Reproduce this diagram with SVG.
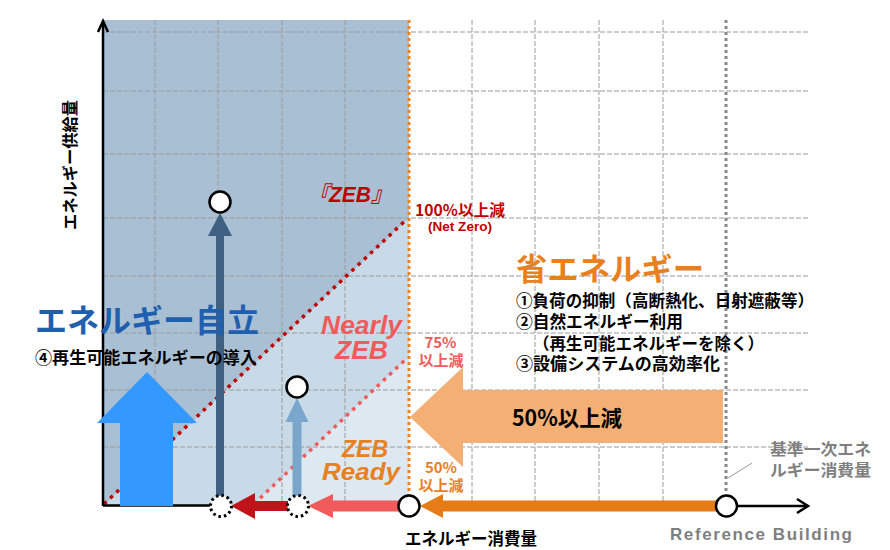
<svg xmlns="http://www.w3.org/2000/svg" width="890" height="550" viewBox="0 0 890 550">
<defs>
<style>
.jp{font-family:"Noto Sans CJK JP","Noto Sans",sans-serif;font-weight:bold}
.la{font-family:"Liberation Sans",Arial,"Noto Sans CJK JP",sans-serif;font-weight:bold}
.it{font-style:italic}
.grid{stroke:#9a9a9a;stroke-width:1;stroke-dasharray:5 2;fill:none}
.circ{fill:#fff;stroke:#000;stroke-width:2.5}
.dcirc{fill:#fff;stroke:#000;stroke-width:3;stroke-dasharray:2.5 3}
</style>
</defs>
<rect width="890" height="550" fill="#fff"/>
<g id="regions">
<rect x="103" y="20" width="306" height="486" fill="#a9c0d4"/>
<polygon points="103,506 409,218 409,506" fill="#c8dae8"/>
<polygon points="252,506 409,357 409,506" fill="#dde8f0"/>
</g>
<g id="grid" class="grid">
<path d="M103 32H810M103 91H810M103 154H810M103 218H810M103 276H810M103 333H810M103 390H810M103 447H810"/>
<path d="M155 20V505M218 20V505M282 20V505M345 20V505M472 20V505M535 20V505M599 20V505M663 20V505"/>
</g>
<g id="guide-lines" fill="none">
<line x1="409" y1="20" x2="409" y2="496" stroke="#ef841e" stroke-width="3" stroke-dasharray="3 3"/>
<line x1="726" y1="20" x2="726" y2="494" stroke="#888" stroke-width="3" stroke-dasharray="3 3"/>
<line x1="728" y1="478" x2="752" y2="463" stroke="#999" stroke-width="1"/>
</g>
<g id="zeb-lines" fill="none" stroke-width="3.5" stroke-dasharray="3.5 5">
<line x1="104" y1="504" x2="407" y2="219" stroke="#c00000"/>
<line x1="254" y1="504" x2="407" y2="358" stroke="#f05a5a"/>
</g>
<g id="axes" fill="none" stroke="#000" stroke-width="2.5">
<line x1="103" y1="506" x2="103" y2="22"/>
<polyline points="98,32 103,21 108,32"/>
<line x1="103" y1="505.5" x2="210" y2="505.5"/>
<line x1="737" y1="506" x2="807" y2="506"/>
<polyline points="797,499 808,506 797,513"/>
</g>
<g id="connectors">
<polygon id="supply-arrow" points="120,506 120,423 97,423 147,372 197,423 173,423 173,506" fill="#3399ff"/>
<polygon id="saving-arrow" points="723,390 463,390 463,367 410,417 463,467 463,443 723,443" fill="#f4b074"/>
<g fill="#3f6080"><rect x="216" y="234" width="8" height="262"/><polygon points="220,213 208,236 232,236"/></g>
<g fill="#7aa6cc"><rect x="292.5" y="420" width="9" height="76"/><polygon points="297,398 285.5,422 308.5,422"/></g>
<g fill="#e57c18"><rect x="442" y="500.5" width="282" height="11"/><polygon points="420,506 443,494 443,518"/></g>
<g fill="#f05a5a"><rect x="332" y="500.5" width="67" height="11"/><polygon points="308,506 333,494 333,518"/></g>
<g fill="#c0141a"><rect x="254" y="501" width="34" height="10"/><polygon points="231,506 255,493 255,519"/></g>
</g>
<g id="points">
<circle id="p-zeb-top" class="circ" cx="220" cy="202" r="10.5"/>
<circle id="p-nzeb-top" class="circ" cx="297" cy="387" r="10.5"/>
<circle id="p-zeb" class="dcirc" cx="221" cy="506" r="10.5"/>
<circle id="p-nzeb" class="dcirc" cx="298" cy="506" r="10.5"/>
<circle id="p-ready" class="circ" cx="409" cy="506" r="10.5"/>
<circle id="p-ref" class="circ" cx="726.5" cy="506" r="10.5"/>
</g>
<g id="labels">
<text class="jp" x="35" y="332" font-size="32" fill="#1f5fae" textLength="224" lengthAdjust="spacingAndGlyphs">エネルギー自立</text>
<text class="jp" x="35" y="364" font-size="16.5" fill="#000" textLength="222" lengthAdjust="spacingAndGlyphs">④再生可能エネルギーの導入</text>
<text class="jp" x="516" y="280" font-size="31" fill="#e8801e" textLength="188" lengthAdjust="spacingAndGlyphs">省エネルギー</text>
<text class="jp" x="516" y="306.5" font-size="16.5" fill="#000" textLength="298" lengthAdjust="spacingAndGlyphs">①負荷の抑制（高断熱化、日射遮蔽等）</text>
<text class="jp" x="516" y="328" font-size="16.5" fill="#000" textLength="167" lengthAdjust="spacingAndGlyphs">②自然エネルギー利用</text>
<text class="jp" x="533" y="350" font-size="16.5" fill="#000" textLength="231" lengthAdjust="spacingAndGlyphs">（再生可能エネルギーを除く）</text>
<text class="jp" x="516" y="370" font-size="16.5" fill="#000" textLength="204" lengthAdjust="spacingAndGlyphs">③設備システムの高効率化</text>
<text class="jp" x="512" y="426" font-size="22" fill="#000" textLength="110" lengthAdjust="spacingAndGlyphs">50%以上減</text>
<text class="jp it" x="308" y="202" font-size="22" fill="#c00000" textLength="84" lengthAdjust="spacingAndGlyphs">『<tspan class="la" font-size="22">ZEB</tspan>』</text>
<text class="jp" x="415" y="216" font-size="15.5" fill="#c00000" textLength="90" lengthAdjust="spacingAndGlyphs">100%以上減</text>
<text class="la" x="428" y="231" font-size="12" fill="#c00000" textLength="64" lengthAdjust="spacingAndGlyphs">(Net Zero)</text>
<text class="la it" x="321" y="334" font-size="25" fill="#f05a5a" textLength="81" lengthAdjust="spacingAndGlyphs">Nearly</text>
<text class="la it" x="335" y="359" font-size="25" fill="#f05a5a" textLength="53" lengthAdjust="spacingAndGlyphs">ZEB</text>
<text class="jp" x="440.5" y="348" font-size="15" fill="#f05a5a" text-anchor="middle">75%</text>
<text class="jp" x="441" y="366" font-size="15" fill="#f05a5a" text-anchor="middle">以上減</text>
<text class="la it" x="342" y="457" font-size="23" fill="#e8801e" textLength="46" lengthAdjust="spacingAndGlyphs">ZEB</text>
<text class="la it" x="322" y="480" font-size="23" fill="#e8801e" textLength="78" lengthAdjust="spacingAndGlyphs">Ready</text>
<text class="jp" x="441" y="473" font-size="15" fill="#e8801e" text-anchor="middle">50%</text>
<text class="jp" x="441" y="491" font-size="15" fill="#e8801e" text-anchor="middle">以上減</text>
<text class="jp" x="405" y="545" font-size="16.5" fill="#000" textLength="132" lengthAdjust="spacingAndGlyphs">エネルギー消費量</text>
<text class="jp" transform="translate(75.5,165) rotate(-90)" font-size="16.3" fill="#000" text-anchor="middle" textLength="130" lengthAdjust="spacingAndGlyphs">エネルギー供給量</text>
<text class="jp" x="770" y="455" font-size="16" fill="#7f7f7f" textLength="101" lengthAdjust="spacingAndGlyphs">基準一次エネ</text>
<text class="jp" x="770" y="476" font-size="16" fill="#7f7f7f" textLength="101" lengthAdjust="spacingAndGlyphs">ルギー消費量</text>
<text class="la" x="670" y="540" font-size="17" fill="#7f7f7f" textLength="182" lengthAdjust="spacing">Reference Building</text>
</g>
</svg>
